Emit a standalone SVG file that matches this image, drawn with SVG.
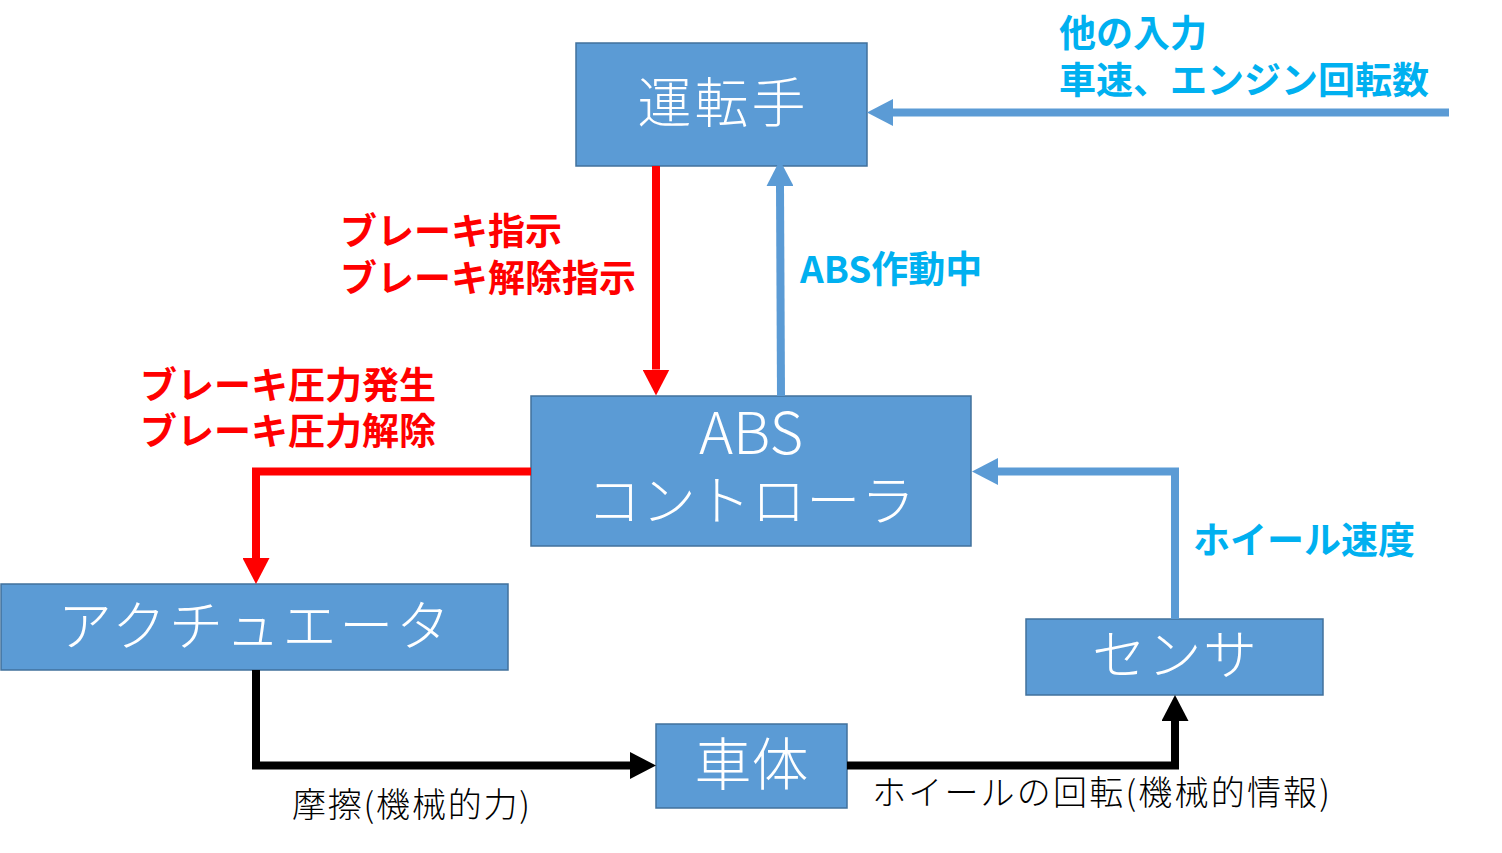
<svg xmlns="http://www.w3.org/2000/svg" width="1502" height="853" viewBox="0 0 1502 853">
  <style>
    .box { fill: #5b9bd5; stroke: #41719c; stroke-width: 1.5; }
    .nt { fill: #ffffff; font-family: "Noto Sans CJK JP", "Noto Sans", sans-serif; font-weight: 300; text-anchor: middle; }
    .lb { font-family: "Noto Sans CJK JP", "Noto Sans", sans-serif; font-weight: 700; font-size: 37px; }
    .red { fill: #ff0000; }
    .cyan { fill: #00b0f0; }
    .bl { fill: #000000; font-family: "Noto Sans CJK JP", "Noto Sans", sans-serif; font-weight: 300; font-size: 34px; }
    .c { fill: none; stroke-width: 8; stroke-linejoin: miter; stroke-linecap: butt; }
    .cr { stroke: #ff0000; }
    .cb { stroke: #5b9bd5; }
    .ck { stroke: #000000; }
  </style>
  <defs>
    <marker id="ar" markerUnits="userSpaceOnUse" viewBox="0 0 26 27" markerWidth="26" markerHeight="27" refX="0" refY="13.5" orient="auto">
      <path d="M0,0 L26,13.5 L0,27 Z" fill="#ff0000"/>
    </marker>
    <marker id="ab" markerUnits="userSpaceOnUse" viewBox="0 0 26 27" markerWidth="26" markerHeight="27" refX="0" refY="13.5" orient="auto">
      <path d="M0,0 L26,13.5 L0,27 Z" fill="#5b9bd5"/>
    </marker>
    <marker id="ak" markerUnits="userSpaceOnUse" viewBox="0 0 26 27" markerWidth="26" markerHeight="27" refX="0" refY="13.5" orient="auto">
      <path d="M0,0 L26,13.5 L0,27 Z" fill="#000000"/>
    </marker>
  </defs>
  <rect width="1502" height="853" fill="#ffffff"/>

  <g id="driver">
    <rect class="box" x="576" y="43" width="291" height="123"/>
    <text class="nt" x="721.5" y="123" font-size="54" textLength="168" lengthAdjust="spacing">運転手</text>
  </g>
  <g id="abs-controller">
    <rect class="box" x="531" y="396" width="440" height="150"/>
    <text class="nt" x="751" y="454" font-size="58">ABS</text>
    <text class="nt" x="751" y="521" font-size="54" textLength="328" lengthAdjust="spacing">コントローラ</text>
  </g>
  <g id="actuator">
    <rect class="box" x="1" y="584" width="507" height="86"/>
    <text class="nt" x="254" y="646" font-size="54" textLength="392" lengthAdjust="spacing">アクチュエータ</text>
  </g>
  <g id="vehicle">
    <rect class="box" x="656" y="724" width="191" height="84"/>
    <text class="nt" x="751.5" y="785" font-size="57">車体</text>
  </g>
  <g id="sensor">
    <rect class="box" x="1026" y="619" width="297" height="76"/>
    <text class="nt" x="1174.5" y="675" font-size="54" textLength="165" lengthAdjust="spacing">センサ</text>
  </g>

  <g id="connectors">
    <path class="c cr" d="M656,166 V369.5" marker-end="url(#ar)"/>
    <path class="c cb" d="M781,396 L780,186" marker-end="url(#ab)"/>
    <path class="c cb" d="M1449,112.5 H893" marker-end="url(#ab)"/>
    <path class="c cb" d="M1175,619 V471.5 H998" marker-end="url(#ab)"/>
    <path class="c cr" d="M531,471.5 H256 V558" marker-end="url(#ar)"/>
    <path class="c ck" d="M256,670 V765.5 H630" marker-end="url(#ak)"/>
    <path class="c ck" d="M847,765.5 H1175 V721" marker-end="url(#ak)"/>
  </g>

  <g id="labels">
    <text class="lb cyan" x="1059" y="47">他の入力</text>
    <text class="lb cyan" x="1059" y="94">車速、エンジン回転数</text>
    <text class="lb red" x="340" y="245">ブレーキ指示</text>
    <text class="lb red" x="340" y="292">ブレーキ解除指示</text>
    <text class="lb cyan" x="800" y="283">ABS作動中</text>
    <text class="lb red" x="140" y="399">ブレーキ圧力発生</text>
    <text class="lb red" x="140" y="445">ブレーキ圧力解除</text>
    <text class="lb cyan" x="1193" y="554">ホイール速度</text>
    <text class="bl" x="292" y="817" textLength="238" lengthAdjust="spacing">摩擦(機械的力)</text>
    <text class="bl" x="872" y="805" textLength="458" lengthAdjust="spacing">ホイールの回転(機械的情報)</text>
  </g>
</svg>
